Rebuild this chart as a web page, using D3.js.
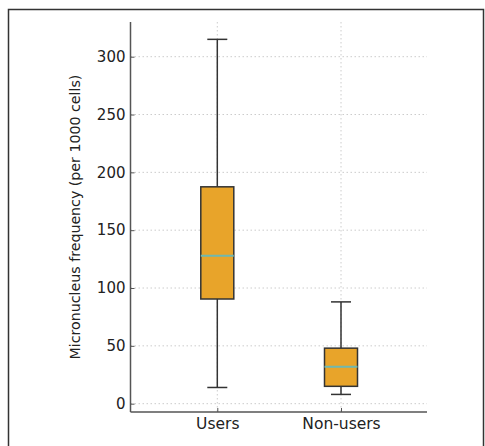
<!DOCTYPE html>
<html lang="en">
<head>
    <meta charset="UTF-8">
    <title>Micronucleus frequency</title>
    <script src="https://d3js.org/d3.v7.min.js"></script>
    <style>
        body { margin: 0; background: #fff; }
        text { font-family: "DejaVu Sans", sans-serif; fill: #222; }
        .grid line { stroke: #ccc; stroke-dasharray: 1.5 2.5; }
    </style>
</head>
<body>
    <svg id="chart" width="485" height="446"></svg>
    <script>
        const groups = ["Users", "Non-users"];
        const whiskerLow = [14, 8];
        const q1 = [90.5, 15];
        const median = [128, 32];
        const q3 = [187.5, 48];
        const whiskerHigh = [315, 88];
        const yTicks = [0, 50, 100, 150, 200, 250, 300];

        const svg = d3.select("#chart");
        const plotLeft = 130.5, plotRight = 427, plotTop = 22, plotBottom = 412;

        // outer frame
        svg.append("rect")
            .attr("x", 8.5).attr("y", 9.5)
            .attr("width", 475).attr("height", 500)
            .attr("fill", "none").attr("stroke", "#333").attr("stroke-width", 1.5);

        const y = d3.scaleLinear().domain([-7.2, 330]).range([plotBottom, plotTop]);
        const x = d3.scalePoint().domain(groups).range([217.3, 341]);

        // grid
        svg.append("g").attr("class", "grid")
            .selectAll("line").data(yTicks).enter().append("line")
            .attr("x1", plotLeft).attr("x2", plotRight)
            .attr("y1", d => y(d)).attr("y2", d => y(d));
        svg.append("g").attr("class", "grid")
            .selectAll("line").data(groups).enter().append("line")
            .attr("x1", d => x(d)).attr("x2", d => x(d))
            .attr("y1", plotTop).attr("y2", plotBottom);

        // axes
        const yAxis = svg.append("g")
            .attr("transform", `translate(${plotLeft},0)`)
            .call(d3.axisRight(y).tickValues(yTicks).tickSize(4).tickFormat(d3.format("d")));
        yAxis.select(".domain").remove();
        yAxis.selectAll(".tick line").attr("stroke", "#555");
        yAxis.selectAll("text").attr("x", -5).attr("text-anchor", "end")
            .style("font-size", "15px");

        const xAxis = svg.append("g")
            .attr("transform", `translate(0,${plotBottom})`)
            .call(d3.axisTop(x).tickSize(4));
        xAxis.select(".domain").remove();
        xAxis.selectAll(".tick line").attr("stroke", "#555");
        xAxis.selectAll("text").attr("y", 6).attr("dy", "0.71em")
            .style("font-size", "15.5px");

        svg.append("line")
            .attr("x1", plotLeft).attr("x2", plotLeft).attr("y1", plotTop).attr("y2", plotBottom)
            .attr("stroke", "#555").attr("stroke-width", 1.5);
        svg.append("line")
            .attr("x1", plotLeft).attr("x2", plotRight).attr("y1", plotBottom).attr("y2", plotBottom)
            .attr("stroke", "#555").attr("stroke-width", 1.5);

        svg.append("text")
            .attr("transform", `translate(80,${(plotTop + plotBottom) / 2}) rotate(-90)`)
            .attr("text-anchor", "middle")
            .style("font-size", "14.2px")
            .text("Micronucleus frequency (per 1000 cells)");

        // boxes
        const boxW = 33, capW = 20;
        const boxes = svg.append("g").selectAll("g").data(groups).enter().append("g");

        boxes.append("line")
            .attr("x1", d => x(d)).attr("x2", d => x(d))
            .attr("y1", (d, i) => y(whiskerHigh[i])).attr("y2", (d, i) => y(q3[i]))
            .attr("stroke", "#333").attr("stroke-width", 1.5);
        boxes.append("line")
            .attr("x1", d => x(d)).attr("x2", d => x(d))
            .attr("y1", (d, i) => y(q1[i])).attr("y2", (d, i) => y(whiskerLow[i]))
            .attr("stroke", "#333").attr("stroke-width", 1.5);
        boxes.append("line")
            .attr("x1", d => x(d) - capW / 2).attr("x2", d => x(d) + capW / 2)
            .attr("y1", (d, i) => y(whiskerHigh[i])).attr("y2", (d, i) => y(whiskerHigh[i]))
            .attr("stroke", "#333").attr("stroke-width", 1.5);
        boxes.append("line")
            .attr("x1", d => x(d) - capW / 2).attr("x2", d => x(d) + capW / 2)
            .attr("y1", (d, i) => y(whiskerLow[i])).attr("y2", (d, i) => y(whiskerLow[i]))
            .attr("stroke", "#333").attr("stroke-width", 1.5);
        boxes.append("rect")
            .attr("x", d => x(d) - boxW / 2).attr("width", boxW)
            .attr("y", (d, i) => y(q3[i]))
            .attr("height", (d, i) => y(q1[i]) - y(q3[i]))
            .attr("fill", "#e8a42a").attr("stroke", "#333").attr("stroke-width", 1.5);
        boxes.append("line")
            .attr("x1", d => x(d) - boxW / 2).attr("x2", d => x(d) + boxW / 2)
            .attr("y1", (d, i) => y(median[i])).attr("y2", (d, i) => y(median[i]))
            .attr("stroke", "#6fb8b0").attr("stroke-width", 2);
    </script>
</body>
</html>
